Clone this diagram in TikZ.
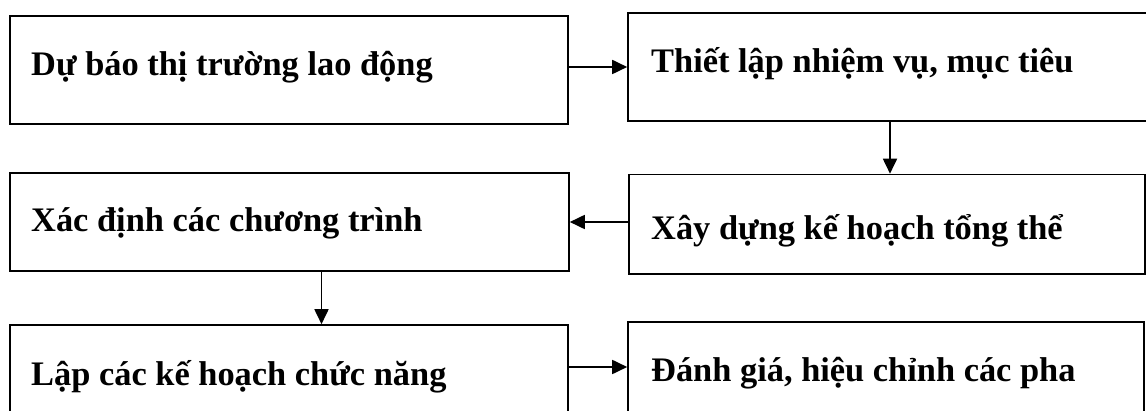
\documentclass[tikz,border=0pt]{standalone}
\usepackage{fontspec}
\setmainfont{Liberation Serif}
\usetikzlibrary{arrows.meta}
\begin{document}
\begin{tikzpicture}[x=1pt,y=-1pt,
  box/.style={draw=black, line width=1.6pt, rectangle, inner sep=0pt},
  lbl/.style={anchor=base west, inner sep=0pt, font=\fontsize{34.4}{40}\selectfont\bfseries},
  arr/.style={line width=1.8pt, -{Triangle[length=15pt,width=14pt]}}]
  \useasboundingbox (0,0) rectangle (1146,411);
  \clip (0,0) rectangle (1146,411);

  % boxes (the right column's top box and the bottom row run past the frame)
  \node[box, minimum width=558pt, minimum height=108pt] (b1) at (289,70) {};
  \node[box, minimum width=542pt, minimum height=108pt] (b2) at (899,67) {};
  \node[box, minimum width=559pt, minimum height=98pt]  (b3) at (289.5,222) {};
  \node[box, minimum width=516pt, minimum height=99.5pt] (b4) at (887,224.25) {};
  \node[box, minimum width=558pt, minimum height=120pt] (b5) at (289,385) {};
  \node[box, minimum width=516pt, minimum height=120pt] (b6) at (886,382) {};

  % labels
  \node[lbl] (t1) at (31,76)  {Dự báo thị trường lao động};
  \node[lbl] (t2) at (651,73) {Thiết lập nhiệm vụ, mục tiêu};
  \node[lbl] (t3) at (31,232) {Xác định các chương trình};
  \node[lbl] (t4) at (651,240) {Xây dựng kế hoạch tổng thể};
  \node[lbl] (t5) at (31,386) {Lập các kế hoạch chức năng};
  \node[lbl] (t6) at (651,382) {Đánh giá, hiệu chỉnh các pha};

  % attachment points of the connectors
  \coordinate (d2) at ([xshift=-9pt]b2.south);
  \coordinate (d3) at ([xshift=32pt]b3.south);
  \coordinate (m6) at ([yshift=15pt]b6.west);

  % connectors
  \draw[arr] (b1.east |- b2.west) -- (b2.west);
  \draw[arr] (d2) -- (d2 |- b4.north);
  \draw[arr] (b4.west |- b3.east) -- (b3.east);
  \draw[arr] (d3) -- (d3 |- b5.north);
  \draw[arr] (m6 -| b5.east) -- (m6);
\end{tikzpicture}
\end{document}
